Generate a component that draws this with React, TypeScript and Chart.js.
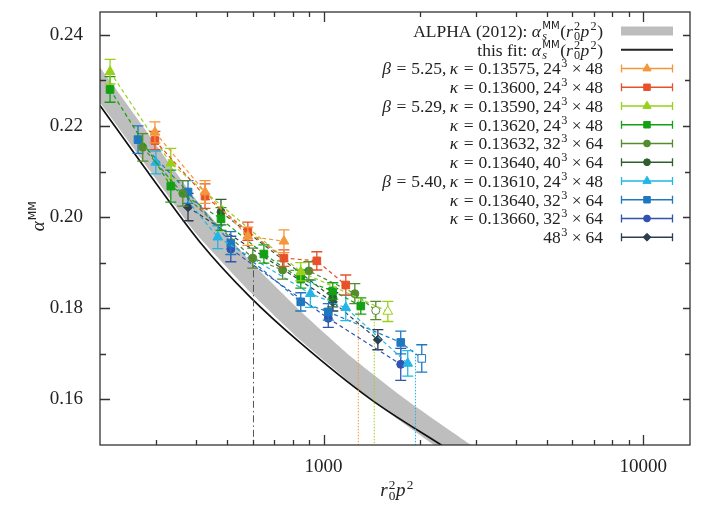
import { useEffect, useRef } from 'react';
import { Chart, registerables } from 'chart.js';

Chart.register(...registerables);

const X_MIN = 200;
const X_MAX = 14000;
const Y_MIN = 0.15;
const Y_MAX = 0.245;
const xTickValues = [1000, 10000];
const yTickValues = [0.16, 0.18, 0.2, 0.22, 0.24];

// ALPHA (2012) band edges and this fit
const bandUpperX = [180, 200, 287, 396, 589, 843, 1208, 1808, 2866, 3300];
const bandUpperY = [0.2360, 0.2328, 0.2177, 0.2042, 0.1904, 0.1795, 0.1696, 0.16, 0.1502, 0.1472];
const bandLowerX = [180, 200, 287, 396, 589, 843, 1406, 2196, 2540];
const bandLowerY = [0.2283, 0.2251, 0.2101, 0.1967, 0.1836, 0.1731, 0.16, 0.1502, 0.147];
const fitX = [200, 287, 411, 589, 843, 1406, 2309, 2670];
const fitY = [0.2245, 0.2092, 0.1945, 0.1825, 0.1725, 0.16, 0.1502, 0.1474];

// vertical cut lines
const cutX = [604, 1285, 1441, 1939];
const cutTop = [0.1915, 0.1825, 0.179, 0.170];

// data series
const s1x = [297, 426, 580, 752];
const s1y = [0.2186, 0.2055, 0.1958, 0.1947];
const s1e = [0.0023, 0.0025, 0.002, 0.0025];
const s1h = [0, 0, 0, 0];

const s2x = [297, 426, 580, 752, 953, 1174];
const s2y = [0.2168, 0.2046, 0.1969, 0.191, 0.1904, 0.1851];
const s2e = [0.002, 0.0027, 0.002, 0.0018, 0.002, 0.0022];
const s2h = [0, 0, 0, 0, 0, 0];

const s3x = [215, 333, 849, 1589];
const s3y = [0.2319, 0.2118, 0.188, 0.1793];
const s3e = [0.0027, 0.0033, 0.002, 0.0022];
const s3h = [0, 0, 0, 1];

const s4x = [215, 333, 478, 651, 849, 1069, 1308];
const s4y = [0.228, 0.2068, 0.1996, 0.1919, 0.1864, 0.1838, 0.1805];
const s4e = [0.0028, 0.0035, 0.0025, 0.002, 0.002, 0.0018, 0.0018];
const s4h = [0, 0, 0, 0, 0, 0, 0];

const s5x = [272, 363, 601, 745, 900, 1253, 1457];
const s5y = [0.2153, 0.2052, 0.191, 0.1884, 0.1882, 0.1832, 0.1795];
const s5e = [0.003, 0.0028, 0.0022, 0.002, 0.002, 0.0022, 0.002];
const s5h = [0, 0, 0, 0, 0, 0, 1];

const s6x = [478, 1069];
const s6y = [0.2011, 0.1823];
const s6e = [0.0028, 0.002];
const s6h = [0, 0];

const s7x = [299, 467, 910, 1174, 1834];
const s7y = [0.212, 0.1956, 0.1832, 0.1801, 0.1679];
const s7e = [0.0025, 0.0025, 0.003, 0.0028, 0.0028];
const s7h = [0, 0, 0, 0, 0];

const s8x = [263, 377, 513, 849, 1035, 1744, 2029];
const s8y = [0.217, 0.2055, 0.1943, 0.1814, 0.1792, 0.1725, 0.169];
const s8e = [0.003, 0.0025, 0.0025, 0.002, 0.0018, 0.0025, 0.003];
const s8h = [0, 0, 0, 0, 0, 0, 1];

const s9x = [513, 1035, 1744];
const s9y = [0.193, 0.1778, 0.1677];
const s9e = [0.0028, 0.002, 0.0035];
const s9h = [0, 0, 0];

const s10x = [377, 1069, 1479];
const s10y = [0.2022, 0.1814, 0.1731];
const s10e = [0.003, 0.002, 0.0022];
const s10h = [0, 0, 0];

const seriesLabels = [
  '$β = 5.25, κ = 0.13575, 24^3 × 48$',
  '$κ = 0.13600, 24^3 × 48$',
  '$β = 5.29, κ = 0.13590, 24^3 × 48$',
  '$κ = 0.13620, 24^3 × 48$',
  '$κ = 0.13632, 32^3 × 64$',
  '$κ = 0.13640, 40^3 × 64$',
  '$β = 5.40, κ = 0.13610, 24^3 × 48$',
  '$κ = 0.13640, 32^3 × 64$',
  '$κ = 0.13660, 32^3 × 64$',
  '$48^3 × 64$',
];
const bandLabel = 'ALPHA (2012): $α_s^{MM}(r_0^2p^2)$';
const fitLabel = 'this fit: $α_s^{MM}(r_0^2p^2)$';
const xTitle = '$r_0^2p^2$';
const yTitle = '$α^{MM}$';

const seriesX = [s1x, s2x, s3x, s4x, s5x, s6x, s7x, s8x, s9x, s10x];
const seriesY = [s1y, s2y, s3y, s4y, s5y, s6y, s7y, s8y, s9y, s10y];
const seriesE = [s1e, s2e, s3e, s4e, s5e, s6e, s7e, s8e, s9e, s10e];
const seriesH = [s1h, s2h, s3h, s4h, s5h, s6h, s7h, s8h, s9h, s10h];

const colors = ['#f4963a', '#e8502a', '#98d01a', '#13a013', '#558b2f', '#2f5e2f', '#22b5e6', '#1e78c0', '#3152b1', '#2c3e50'];
const shapes = ['triangle', 'rect', 'triangle', 'rect', 'circle', 'circle', 'triangle', 'rect', 'circle', 'rectRot'];
const radii: Record<string, number> = { triangle: 5.6, rect: 5.4, circle: 4, rectRot: 4.6 };
const cutColors = ['#555555', '#f4963a', '#98d01a', '#22b5e6'];
const cutDash = [[7, 3, 1.5, 3], [1.5, 1.5], [1.5, 1.5], [1.5, 1.5]];

const SERIF = '"Liberation Serif", "Times New Roman", serif';
const SANS = '"DejaVu Sans", "Liberation Sans", sans-serif';

type Run = { t: string; font: string; dx: number; dy: number };

function layoutRich(ctx: CanvasRenderingContext2D, s: string, size: number) {
  const runs: Run[] = [];
  let x = 0;
  let math = false;
  let i = 0;
  const f = (it: boolean, sf: boolean, sz: number) => `${it ? 'italic ' : ''}${sz}px ${sf ? SANS : SERIF}`;
  const isLetter = (c: string) => /[A-Za-zα-ωΑ-Ω]/.test(c);
  const readGroup = () => {
    if (s[i] === '{') {
      const j = s.indexOf('}', i);
      const g = s.slice(i + 1, j);
      i = j + 1;
      return g;
    }
    const g = s[i];
    i++;
    return g;
  };
  const script = (g: string, dy: number, x0: number) => {
    let xx = x0;
    if (g === 'MM') {
      const font = f(false, true, size * 0.58);
      ctx.font = font;
      runs.push({ t: g, font, dx: xx, dy: dy - size * 0.03 });
      return ctx.measureText(g).width;
    }
    for (const c of g) {
      const font = f(isLetter(c), false, size * 0.7);
      ctx.font = font;
      runs.push({ t: c, font, dx: xx, dy });
      xx += ctx.measureText(c).width;
    }
    return xx - x0;
  };
  const push = (c: string, it: boolean) => {
    const font = f(it, false, size);
    ctx.font = font;
    runs.push({ t: c, font, dx: x, dy: 0 });
    x += ctx.measureText(c).width;
  };
  while (i < s.length) {
    const c = s[i];
    if (c === '$') { math = !math; i++; continue; }
    if (math) {
      if (c === ' ') { i++; continue; }
      if (c === '^' || c === '_') {
        i++;
        const g1 = readGroup();
        const sup = size * -0.4;
        const sub = size * 0.2;
        let w = script(g1, c === '^' ? sup : sub, x + 0.5);
        if (s[i] === '^' || s[i] === '_') {
          const c2 = s[i];
          i++;
          const g2 = readGroup();
          w = Math.max(w, script(g2, c2 === '^' ? sup : sub, x + 0.5));
        }
        x += w + 1;
        continue;
      }
      if (c === '=') { x += size * 0.278; push(c, false); x += size * 0.278; i++; continue; }
      if (c === '×') { x += size * 0.222; push(c, false); x += size * 0.222; i++; continue; }
      if (c === ',') { push(c, false); x += size * 0.2; i++; continue; }
      push(c, isLetter(c));
      if (isLetter(c)) x += size * 0.04;
      i++;
      continue;
    }
    push(c, false);
    i++;
  }
  return { runs, width: x };
}

function drawRich(ctx: CanvasRenderingContext2D, s: string, size: number, x: number, yMid: number, align: 'right' | 'center') {
  const { runs, width } = layoutRich(ctx, s, size);
  const x0 = align === 'right' ? x - width : x - width / 2;
  const base = yMid + size * 0.33;
  ctx.textBaseline = 'alphabetic';
  ctx.textAlign = 'left';
  for (const r of runs) {
    ctx.font = r.font;
    ctx.fillText(r.t, x0 + r.dx, base + r.dy);
  }
}

function drawMarker(ctx: CanvasRenderingContext2D, shape: string, x: number, y: number, r: number, fill: string, stroke: string) {
  ctx.beginPath();
  if (shape === 'circle') ctx.arc(x, y, r, 0, Math.PI * 2);
  else if (shape === 'rect') {
    const s = r * Math.SQRT1_2;
    ctx.rect(x - s, y - s, 2 * s, 2 * s);
  } else if (shape === 'triangle') {
    for (let k = 0; k < 3; k++) {
      const a = (k * 2 * Math.PI) / 3;
      const px = x + Math.sin(a) * r;
      const py = y - Math.cos(a) * r;
      if (k === 0) ctx.moveTo(px, py);
      else ctx.lineTo(px, py);
    }
    ctx.closePath();
  } else {
    ctx.moveTo(x - r, y);
    ctx.lineTo(x, y - r);
    ctx.lineTo(x + r, y);
    ctx.lineTo(x, y + r);
    ctx.closePath();
  }
  ctx.fillStyle = fill;
  ctx.fill();
  ctx.strokeStyle = stroke;
  ctx.lineWidth = 1;
  ctx.stroke();
}

const errorBarPlugin = {
  id: 'errorBars',
  beforeDatasetDraw(chart: any, args: any) {
    const ds = chart.data.datasets[args.index];
    if (!ds.errors) return;
    const ctx = chart.ctx as CanvasRenderingContext2D;
    const ys = chart.scales.y;
    const area = chart.chartArea;
    ctx.save();
    ctx.beginPath();
    ctx.rect(area.left, area.top, area.right - area.left, area.bottom - area.top);
    ctx.clip();
    ctx.strokeStyle = ds.borderColor;
    ctx.lineWidth = 1.3;
    ctx.setLineDash([]);
    args.meta.data.forEach((pt: any, i: number) => {
      const v = ds.data[i].y;
      const e = ds.errors[i];
      const y1 = ys.getPixelForValue(v + e);
      const y2 = ys.getPixelForValue(v - e);
      const x = pt.x;
      ctx.beginPath();
      ctx.moveTo(x, y1);
      ctx.lineTo(x, y2);
      ctx.moveTo(x - 5.5, y1);
      ctx.lineTo(x + 5.5, y1);
      ctx.moveTo(x - 5.5, y2);
      ctx.lineTo(x + 5.5, y2);
      ctx.stroke();
    });
    ctx.restore();
  },
};

const framePlugin = {
  id: 'frameLegend',
  afterDraw(chart: any) {
    const ctx = chart.ctx as CanvasRenderingContext2D;
    const a = chart.chartArea;
    const xs = chart.scales.x;
    const ys = chart.scales.y;
    ctx.save();
    ctx.strokeStyle = '#333';
    ctx.lineWidth = 1.3;
    ctx.setLineDash([]);
    ctx.strokeRect(a.left, a.top, a.right - a.left, a.bottom - a.top);
    ctx.beginPath();
    for (const d of [100, 1000, 10000]) {
      for (let k = 1; k <= 9; k++) {
        const v = d * k;
        if (v <= X_MIN || v >= X_MAX) continue;
        const px = Math.round(xs.getPixelForValue(v)) + 0.5;
        const len = k === 1 ? 10 : 5;
        ctx.moveTo(px, a.bottom);
        ctx.lineTo(px, a.bottom - len);
        ctx.moveTo(px, a.top);
        ctx.lineTo(px, a.top + len);
      }
    }
    for (let k = 16; k <= 24; k++) {
      const v = k / 100;
      const py = Math.round(ys.getPixelForValue(v)) + 0.5;
      const major = k % 2 === 0;
      ctx.moveTo(a.left, py);
      ctx.lineTo(a.left + (major ? 10 : 6), py);
      ctx.moveTo(a.right, py);
      ctx.lineTo(a.right - (major ? 7 : 5), py);
    }
    ctx.stroke();

    // axis titles
    ctx.fillStyle = '#222';
    drawRich(ctx, xTitle, 19, 397, 490, 'center');
    ctx.save();
    ctx.translate(38, 216);
    ctx.rotate(-Math.PI / 2);
    drawRich(ctx, yTitle, 19, 0, 0, 'center');
    ctx.restore();

    // legend
    const rows = 12;
    const y0 = 31;
    const dy = 18.75;
    const textRight = 603;
    const l1 = 621;
    const l2 = 673;
    const lm = (l1 + l2) / 2;
    for (let r = 0; r < rows; r++) {
      const y = y0 + r * dy;
      ctx.fillStyle = '#222';
      const label = r === 0 ? bandLabel : r === 1 ? fitLabel : seriesLabels[r - 2];
      drawRich(ctx, label, 17.5, textRight, y, 'right');
      if (r === 0) {
        ctx.fillStyle = '#bdbdbd';
        ctx.fillRect(l1, y - 4.5, l2 - l1, 9);
      } else if (r === 1) {
        ctx.strokeStyle = '#222';
        ctx.lineWidth = 1.8;
        ctx.beginPath();
        ctx.moveTo(l1, y);
        ctx.lineTo(l2, y);
        ctx.stroke();
      } else {
        const i = r - 2;
        ctx.strokeStyle = colors[i];
        ctx.lineWidth = 1.3;
        ctx.beginPath();
        ctx.moveTo(l1, y);
        ctx.lineTo(l2, y);
        ctx.moveTo(l1 + 0.5, y - 4);
        ctx.lineTo(l1 + 0.5, y + 4);
        ctx.moveTo(l2 - 0.5, y - 4);
        ctx.lineTo(l2 - 0.5, y + 4);
        ctx.stroke();
        drawMarker(ctx, shapes[i], lm, y, radii[shapes[i]] * 0.85, colors[i], colors[i]);
      }
    }
    ctx.restore();
  },
};

const zeroPad = (s: any) => {
  s.paddingTop = 0;
  s.paddingBottom = 0;
  s.paddingLeft = 0;
  s.paddingRight = 0;
};

export default function App() {
  const ref = useRef<HTMLCanvasElement>(null);
  useEffect(() => {
    if (!ref.current) return;
    const datasets: any[] = [];
    const bandPoly = [
      ...bandUpperX.map((x, i) => ({ x, y: bandUpperY[i] })),
      ...bandLowerX.map((x, i) => ({ x, y: bandLowerY[i] })).reverse(),
    ];
    datasets.push({
      label: 'ALPHA (2012)',
      data: bandPoly,
      borderWidth: 0,
      borderColor: 'rgba(0,0,0,0)',
      backgroundColor: '#bebebe',
      pointRadius: 0,
      fill: 'shape',
      tension: 0.15,
      order: 100,
    });
    datasets.push({
      label: 'this fit',
      data: fitX.map((x, i) => ({ x, y: fitY[i] })),
      borderColor: '#111',
      borderWidth: 1.7,
      pointRadius: 0,
      fill: false,
      cubicInterpolationMode: 'monotone',
      order: 90,
    });
    cutX.forEach((x, i) => {
      datasets.push({
        label: 'cut ' + i,
        data: [{ x, y: cutTop[i] }, { x, y: 0.14 }],
        borderColor: cutColors[i],
        borderWidth: 1,
        borderDash: cutDash[i],
        pointRadius: 0,
        fill: false,
        order: 80,
      });
    });
    seriesX.forEach((xs, s) => {
      datasets.push({
        label: seriesLabels[s],
        data: xs.map((x, i) => ({ x, y: seriesY[s][i] })),
        errors: seriesE[s],
        borderColor: colors[s],
        borderWidth: 1.2,
        borderDash: [4, 3],
        pointStyle: shapes[s],
        pointRadius: radii[shapes[s]],
        pointBorderWidth: 1,
        pointBorderColor: colors[s],
        pointBackgroundColor: seriesH[s].map((h) => (h ? '#ffffff' : colors[s])),
        fill: false,
        order: 10 + s,
      });
    });

    const chart = new Chart(ref.current, {
      type: 'line',
      data: { datasets },
      options: {
        responsive: false,
        animation: false,
        layout: { padding: { top: 12, right: 15, left: 0, bottom: 0 } },
        plugins: { legend: { display: false }, tooltip: { enabled: false } },
        scales: {
          x: {
            type: 'logarithmic',
            min: X_MIN,
            max: X_MAX,
            grid: { display: false, drawTicks: false },
            border: { display: false },
            afterBuildTicks: (s: any) => {
              s.ticks = xTickValues.map((v) => ({ value: v }));
            },
            afterFit: (s: any) => {
              s.height = 72;
              zeroPad(s);
            },
            ticks: {
              autoSkip: false,
              maxRotation: 0,
              padding: 11,
              color: '#222',
              font: { family: SERIF, size: 19 },
              callback: (v: any) => String(v),
            },
          },
          y: {
            type: 'linear',
            min: Y_MIN,
            max: Y_MAX,
            grid: { display: false, drawTicks: false },
            border: { display: false },
            afterBuildTicks: (s: any) => {
              s.ticks = yTickValues.map((v) => ({ value: v }));
            },
            afterFit: (s: any) => {
              s.width = 100;
              zeroPad(s);
            },
            ticks: {
              padding: 17,
              color: '#222',
              font: { family: SERIF, size: 19 },
              callback: (v: any) => Number(v).toFixed(2),
            },
          },
        },
      } as any,
      plugins: [errorBarPlugin, framePlugin],
    });
    return () => chart.destroy();
  }, []);

  return (
    <div style={{ position: 'fixed', left: 0, top: 0, width: 705, height: 517, background: '#fff' }}>
      <canvas ref={ref} width={705} height={517} style={{ display: 'block' }} />
    </div>
  );
}
